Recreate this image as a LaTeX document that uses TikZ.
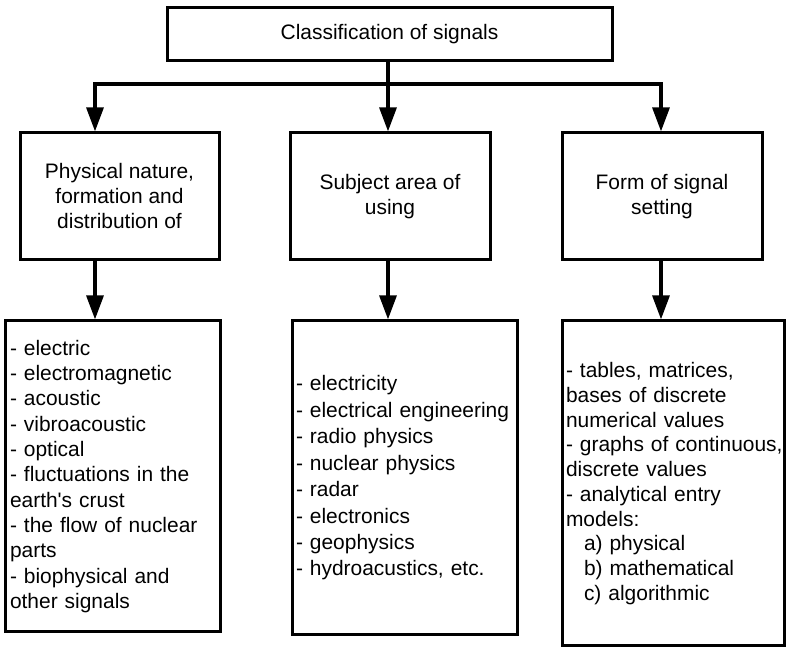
\documentclass[tikz,border=0pt]{standalone}
\usepackage{fontspec}
\setmainfont{Liberation Sans}
\usetikzlibrary{arrows.meta}
\hyphenpenalty=10000
\exhyphenpenalty=10000

\begin{document}
\begin{tikzpicture}[
    box/.style={draw, rectangle, line width=0.075cm, align=center, minimum width=5cm, minimum height=3.175cm, font=\fontsize{14.9pt}{17.8pt}\selectfont},
    listbox/.style={draw, rectangle, line width=0.075cm, align=left, inner xsep=0.1cm, inner ysep=0cm},
    arr/.style={line width=0.09cm, -{Triangle[width=0.42cm,length=0.6cm]}}
  ]
    \useasboundingbox (0,0) rectangle (19.675,16.175);
    % top
    \node[draw, rectangle, line width=0.075cm, minimum width=11.125cm, minimum height=1.325cm, font=\fontsize{14.9pt}{17.8pt}\selectfont] (top) at (9.7375,15.3125) {Classification of signals};
    % second row
    \node[box, minimum width=4.975cm] (phys) at (2.9875,11.2625) {Physical nature,\\formation and\\distribution of};
    \node[box] (subj) at (9.75,11.2625) {Subject area of\\using};
    \node[box] (form) at (16.55,11.2625) {Form of signal\\setting};
    % lists
    \node[listbox, text width=5.15cm, minimum height=7.775cm, font=\fontsize{14.9pt}{18pt}\selectfont] (physlist) at (2.825,4.2625) {- electric\\- electromagnetic\\- acoustic\\- vibroacoustic\\- optical\\- fluctuations in the\\earth\textquotesingle s crust\\- the flow of nuclear\\parts\\- biophysical and\\other signals};
    \node[listbox, text width=5.425cm, minimum height=7.85cm, font=\fontsize{14.9pt}{18.8pt}\selectfont] (subjlist) at (10.1125,4.225) {- electricity\\- electrical engineering\\- radio physics\\- nuclear physics\\- radar\\- electronics\\- geophysics\\- hydroacustics, etc.};
    \node[listbox, text width=5.35cm, minimum height=8.125cm, font=\fontsize{14.9pt}{17.6pt}\selectfont] (formlist) at (16.825,4.0875) {- tables, matrices,\\bases of discrete\\numerical values\\\mbox{- graphs of continuous,}\\discrete values\\- analytical entry\\models:\\\hspace*{0.45cm}a) physical\\\hspace*{0.45cm}b) mathematical\\\hspace*{0.45cm}c) algorithmic};
    % branching
    \coordinate (fork) at (9.7,14.075);
    \coordinate (forkl) at (2.375,14.075);
    \coordinate (forkr) at (16.525,14.075);
    \draw[line width=0.09cm] (top.south -| fork) -- (fork);
    \draw[arr] (fork) -- (forkl) -- (forkl |- phys.north);
    \draw[arr] (fork) -- (forkr) -- (forkr |- form.north);
    \draw[arr] (fork) -- (fork |- subj.north);
    \draw[arr] (phys.south -| forkl) -- (forkl |- physlist.north);
    \draw[arr] (subj.south -| fork) -- (fork |- subjlist.north);
    \draw[arr] (form.south -| forkr) -- (forkr |- formlist.north);
\end{tikzpicture}
\end{document}
